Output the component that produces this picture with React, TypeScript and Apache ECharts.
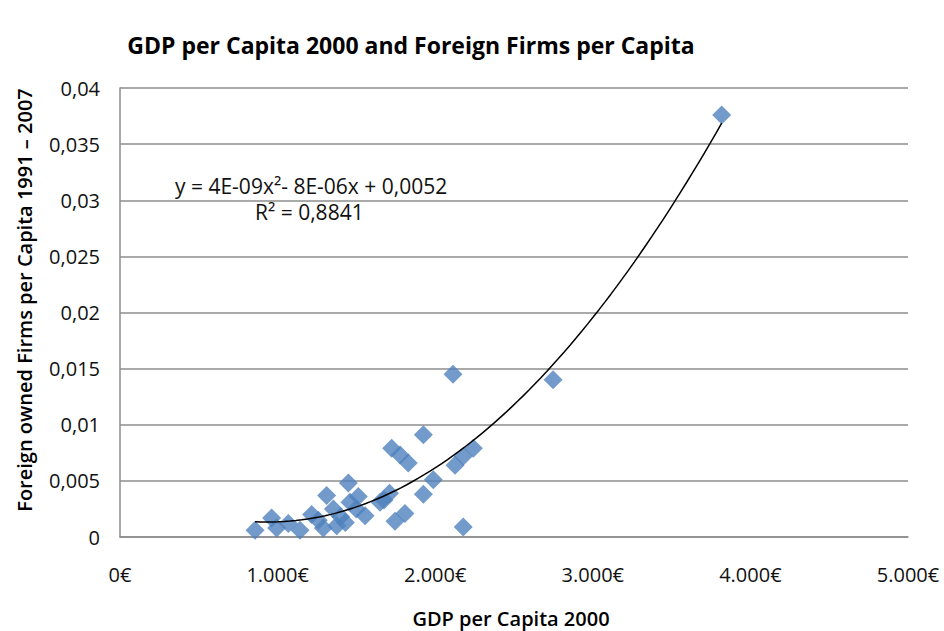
import React, { useEffect, useRef } from "react";
import * as echarts from "echarts";

const gdpPerCapita = [
  857, 962, 994, 1068, 1142, 1216, 1258, 1290, 1311, 1354, 1375, 1400, 1430,
  1449, 1459, 1500, 1512, 1555, 1650, 1675, 1710, 1724, 1745, 1777, 1808, 1829,
  1925, 1925, 1988, 2113, 2126, 2178, 2178, 2242, 2748, 3818,
];
const foreignFirms = [
  0.0006, 0.0017, 0.0008, 0.0012, 0.0006, 0.002, 0.0015, 0.0008, 0.0037,
  0.0025, 0.001, 0.0018, 0.0013, 0.0048, 0.0031, 0.0025, 0.0036, 0.0019,
  0.0031, 0.0033, 0.0039, 0.0079, 0.0014, 0.0073, 0.0021, 0.0066, 0.0038,
  0.0091, 0.0051, 0.0145, 0.0064, 0.0072, 0.0009, 0.0079, 0.014, 0.0376,
];
const titleText = "GDP per Capita 2000 and Foreign Firms per Capita";
const xName = "GDP per Capita 2000";
const yName = "Foreign owned Firms per Capita 1991 – 2007";
const equationText = "y = 4E-09x²- 8E-06x + 0,0052";
const r2Text = "R² = 0,8841";

// Least-squares quadratic fit (as the spreadsheet trendline does)
function quadFit(xs: number[], ys: number[]) {
  const s = [0, 0, 0, 0, 0];
  const t = [0, 0, 0];
  for (let i = 0; i < xs.length; i++) {
    const x = xs[i] / 1000;
    let p = 1;
    for (let k = 0; k < 5; k++) {
      s[k] += p;
      if (k < 3) t[k] += p * ys[i];
      p *= x;
    }
  }
  const M = [
    [s[0], s[1], s[2], t[0]],
    [s[1], s[2], s[3], t[1]],
    [s[2], s[3], s[4], t[2]],
  ];
  for (let i = 0; i < 3; i++) {
    for (let j = i + 1; j < 3; j++) {
      const f = M[j][i] / M[i][i];
      for (let k = i; k < 4; k++) M[j][k] -= f * M[i][k];
    }
  }
  const c = [0, 0, 0];
  for (let i = 2; i >= 0; i--) {
    let v = M[i][3];
    for (let k = i + 1; k < 3; k++) v -= M[i][k] * c[k];
    c[i] = v / M[i][i];
  }
  return (x: number) => {
    const u = x / 1000;
    return c[0] + c[1] * u + c[2] * u * u;
  };
}

export default function App() {
  const ref = useRef<HTMLDivElement>(null);
  useEffect(() => {
    document.body.style.margin = "0";
    if (!ref.current) return;
    const chart = echarts.init(ref.current, undefined, { renderer: "svg" });
    const fit = quadFit(gdpPerCapita, foreignFirms);
    const xmin = Math.min(...gdpPerCapita);
    const xmax = Math.max(...gdpPerCapita);
    const trend: number[][] = [];
    const n = 80;
    for (let i = 0; i <= n; i++) {
      const x = xmin + ((xmax - xmin) * i) / n;
      trend.push([x, fit(x)]);
    }
    const font = "'Open Sans', 'Noto Sans', sans-serif";
    chart.setOption({
      animation: false,
      backgroundColor: "#ffffff",
      textStyle: { fontFamily: font },
      grid: { left: 120, right: 36, top: 88, bottom: 94 },
      xAxis: {
        type: "value",
        min: 0,
        max: 5000,
        interval: 1000,
        axisLine: { show: true, lineStyle: { color: "#8c8c8c", width: 1.5 } },
        axisTick: { show: false },
        splitLine: { show: false },
        axisLabel: {
          margin: 27,
          color: "#111",
          fontSize: 20,
          fontFamily: font,
          formatter: (v: number) =>
            v === 0 ? "0€" : (v / 1000).toFixed(3) + "€",
        },
      },
      yAxis: {
        type: "value",
        min: 0,
        max: 0.04,
        interval: 0.005,
        axisLine: { show: true, lineStyle: { color: "#8c8c8c", width: 1.5 } },
        axisTick: { show: false },
        splitLine: { show: true, lineStyle: { color: "#8c8c8c", width: 1.5 } },
        axisLabel: {
          margin: 20,
          color: "#111",
          fontSize: 20,
          fontFamily: font,
          formatter: (v: number) => String(+v.toFixed(4)).replace(".", ","),
        },
      },
      series: [
        {
          type: "scatter",
          data: gdpPerCapita.map((x, i) => [x, foreignFirms[i]]),
          symbol: "diamond",
          symbolSize: 19,
          itemStyle: { color: "#4F81BD" },
          z: 2,
        },
        {
          type: "line",
          data: trend,
          showSymbol: false,
          smooth: false,
          lineStyle: { color: "#000", width: 1.5 },
          z: 3,
        },
      ],
      graphic: [
        {
          type: "text",
          x: 411,
          y: 45,
          style: {
            text: titleText,
            font: `bold 23px ${font}`,
            fill: "#000",
            align: "center",
            verticalAlign: "middle",
          },
        },
        {
          type: "text",
          x: 511,
          y: 618,
          style: {
            text: xName,
            font: `600 20px ${font}`,
            fill: "#000",
            align: "center",
            verticalAlign: "middle",
          },
        },
        {
          type: "text",
          x: 24,
          y: 300,
          rotation: Math.PI / 2,
          style: {
            text: yName,
            font: `600 20px ${font}`,
            fill: "#000",
            align: "center",
            verticalAlign: "middle",
          },
        },
        {
          type: "text",
          x: 175,
          y: 186,
          style: {
            text: equationText,
            font: `21px ${font}`,
            fill: "#111",
            align: "left",
            verticalAlign: "middle",
          },
        },
        {
          type: "text",
          x: 255,
          y: 212,
          style: {
            text: r2Text,
            font: `21px ${font}`,
            fill: "#111",
            align: "left",
            verticalAlign: "middle",
          },
        },
      ],
    });
    return () => chart.dispose();
  }, []);
  return <div ref={ref} style={{ width: 944, height: 631 }} />;
}
